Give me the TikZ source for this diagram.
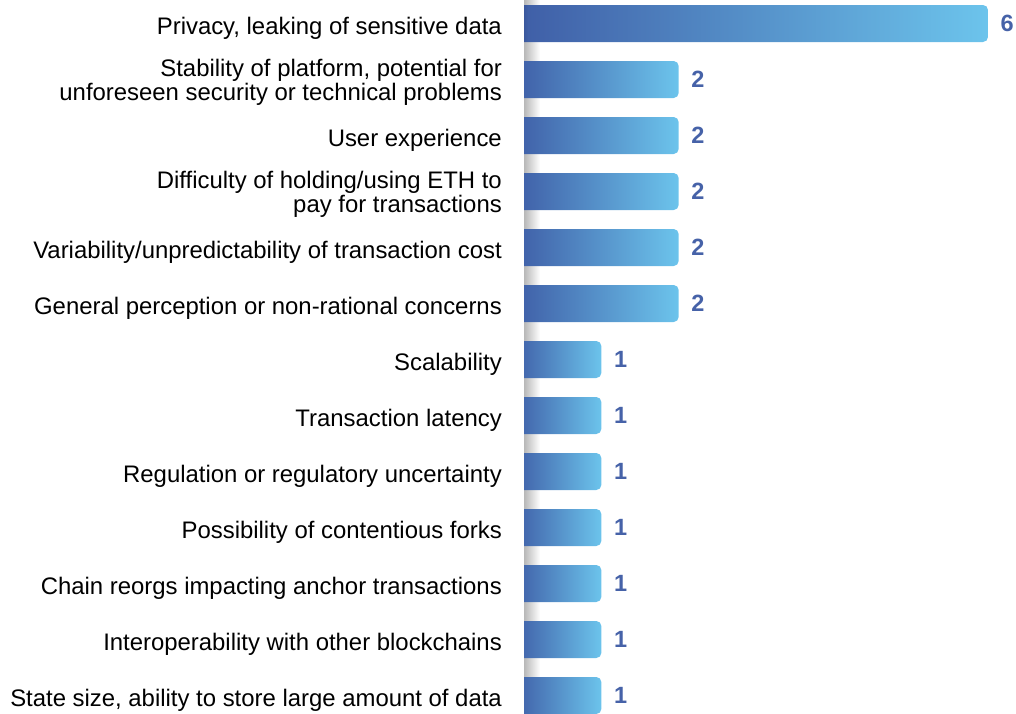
\documentclass[tikz,border=0pt]{standalone}
\usepackage{fontspec}
\setmainfont{Liberation Sans}
\definecolor{bardark}{RGB}{46,70,132}
\definecolor{barmid}{RGB}{64,96,168}
\definecolor{barlight}{RGB}{108,196,236}
\definecolor{valblue}{RGB}{70,98,168}
\pgfdeclarehorizontalshading{barshade}{100bp}{color(0bp)=(bardark); color(25bp)=(bardark); color(26.5bp)=(barmid); color(75bp)=(barlight); color(100bp)=(barlight)}
\begin{document}
\begin{tikzpicture}[x=1pt,y=-1pt,
  lab/.style={inner sep=0pt,align=right,font=\fontsize{23.9}{23.3}\selectfont},
  one/.style={lab,anchor=base east,yshift=-10.5pt},
  two/.style={lab,anchor=east,yshift=-2.8pt},
  val/.style={anchor=base west,inner sep=0pt,text=valblue,font=\fontsize{23.5}{23.5}\selectfont\bfseries,yshift=-7.8pt}]
  \useasboundingbox (0,0) rectangle (1016,713);

  % Axis shadow
  \shade[left color=black!28,right color=white] (524,0) rectangle (540,713);

  % Bars and labels
  \foreach \v/\s/\t [count=\i from 0] in {
    6/one/{Privacy, leaking of sensitive data},
    2/two/{Stability of platform, potential for\\unforeseen security or technical problems},
    2/one/{User experience},
    2/two/{Difficulty of holding/using ETH to\\pay for transactions},
    2/one/{Variability/unpredictability of transaction cost},
    2/one/{General perception or non-rational concerns},
    1/one/{Scalability},
    1/one/{Transaction latency},
    1/one/{Regulation or regulatory uncertainty},
    1/one/{Possibility of contentious forks},
    1/one/{Chain reorgs impacting anchor transactions},
    1/one/{Interoperability with other blockchains},
    1/one/{State size, ability to store large amount of data}}{
    \pgfmathsetmacro{\yc}{23.5+56*\i}
    \pgfmathsetmacro{\xe}{524+77.33*\v}
    \begin{scope}
      \clip (524,\yc-18.5) rectangle (\xe+1,\yc+18.5);
      \shade[shading=barshade,rounded corners=5pt] (514,\yc-18.5) rectangle (\xe,\yc+18.5);
    \end{scope}
    \coordinate (end\i) at (\xe,\yc);
    \node[\s] (lab\i) at (502,\yc) {\t};
    \node[val] (val\i) at ([xshift=12.5pt]end\i) {\v};
  }
\end{tikzpicture}
\end{document}
